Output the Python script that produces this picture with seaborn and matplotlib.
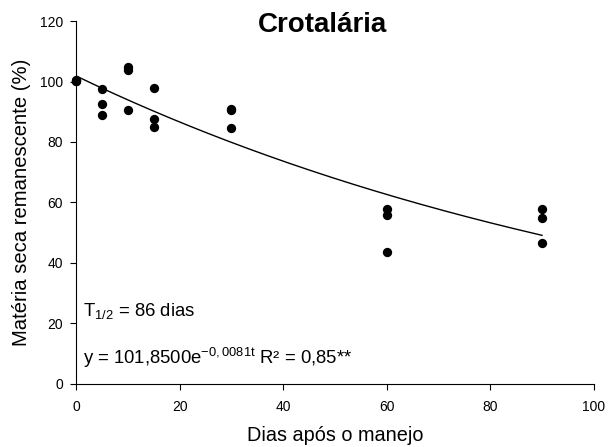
import numpy as np
import pandas as pd
import matplotlib
matplotlib.use("Agg")
import matplotlib.pyplot as plt
import seaborn as sns

# Observed remaining dry matter (%) per sampling day
dias = [0, 0, 0, 5, 5, 5, 10, 10, 10, 15, 15, 15, 30, 30, 30, 60, 60, 60, 90, 90, 90]
materia = [100.5, 100.3, 100.1, 97.5, 92.5, 89.0, 104.8, 103.8, 90.5,
           98.0, 87.5, 84.8, 91.0, 90.5, 84.5, 57.8, 56.0, 43.7, 58.0, 55.0, 46.5]

# Fitted exponential decay model
coef_a = 101.85
coef_k = 0.0081
x_ticks = [0, 20, 40, 60, 80, 100]
y_ticks = [0, 20, 40, 60, 80, 100, 120]

sns.set_theme(style="ticks")
plt.rcParams['font.family'] = ['Liberation Sans', 'DejaVu Sans']
plt.rcParams['mathtext.fontset'] = 'custom'
plt.rcParams['mathtext.rm'] = 'Liberation Sans'
plt.rcParams['mathtext.it'] = 'Liberation Sans'
plt.rcParams['mathtext.bf'] = 'Liberation Sans:bold'

df = pd.DataFrame({"dias": dias, "materia": materia})
t = np.linspace(0, 90, 200)
fit = pd.DataFrame({"dias": t, "materia": coef_a * np.exp(-coef_k * t)})

fig = plt.figure(figsize=(6.08, 4.47), dpi=100)
ax = fig.add_axes([0.125, 0.141, 0.852, 0.812])

sns.lineplot(data=fit, x="dias", y="materia", ax=ax, color="black", linewidth=1.0)
sns.scatterplot(data=df, x="dias", y="materia", ax=ax, color="black", s=45,
                edgecolor="black", linewidth=0, zorder=3, clip_on=False)

ax.set_xlim(0, 100)
ax.set_ylim(0, 120)
ax.set_xticks(x_ticks)
ax.set_yticks(y_ticks)
ax.tick_params(axis="both", labelsize=10, length=4.3, width=0.8, color="black",
               labelcolor="black")
ax.tick_params(axis="y", pad=5)
ax.tick_params(axis="x", pad=7)
for side in ["top", "right"]:
    ax.spines[side].set_visible(False)
for side in ["left", "bottom"]:
    ax.spines[side].set_color("black")
    ax.spines[side].set_linewidth(0.8)

ax.set_xlabel("Dias após o manejo", fontsize=14.3, labelpad=9, color="black")
ax.set_ylabel("Matéria seca remanescente (%)", fontsize=14.6, labelpad=6, color="black")
fig.text(0.53, 0.928, "Crotalária", fontsize=20, fontweight="bold", color="black",
         ha="center", va="baseline")

ax.text(1.3, 22.4, r"T$_{\mathrm{1/2}}$ = 86 dias", fontsize=13.3, color="black",
        va="baseline")
ax.text(1.3, 6.5, r"y = 101,8500e$^{\mathrm{-0,0081t}}$ R² = 0,85**", fontsize=13.3,
        color="black", va="baseline")

fig.savefig("out.png", dpi=100)
